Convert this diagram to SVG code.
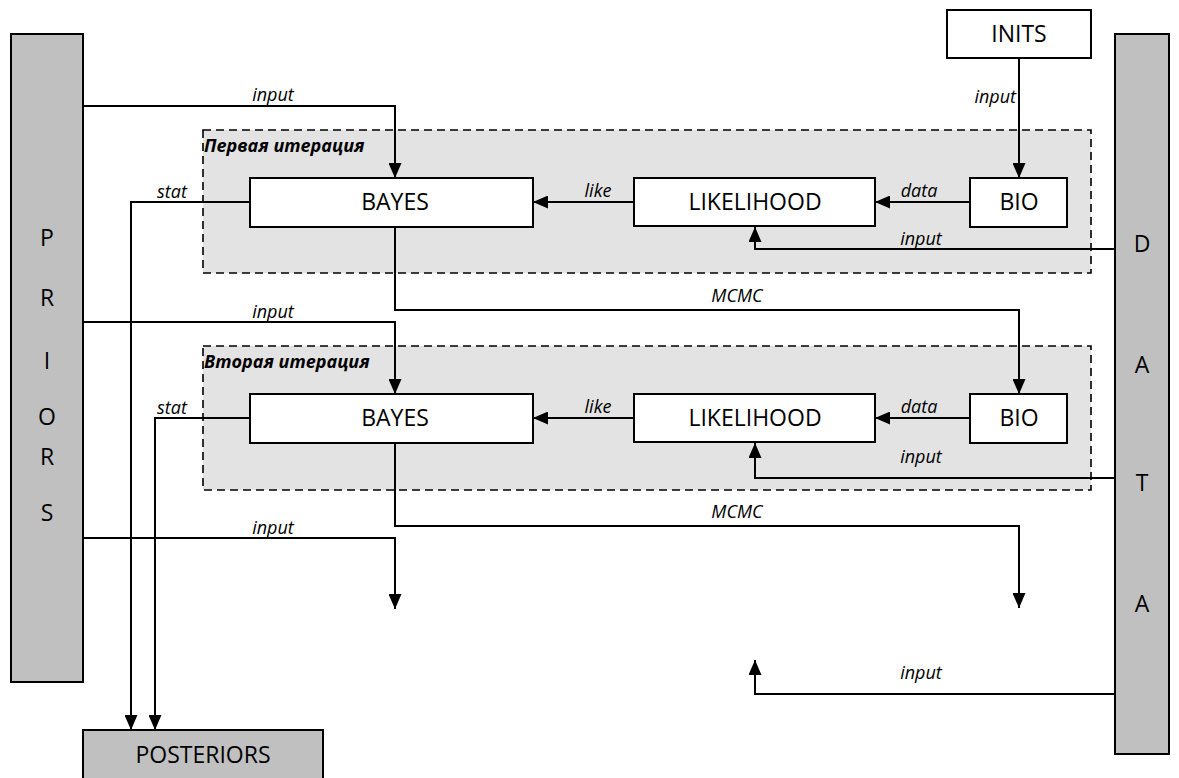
<svg xmlns="http://www.w3.org/2000/svg" width="1179" height="778" viewBox="0 0 1179 778">
<style>
.bg{fill:#ffffff}
.grp{fill:#e3e3e3;stroke:#000;stroke-width:1.6;stroke-dasharray:8 5}
.node{fill:#ffffff;stroke:#000;stroke-width:2}
.ext{fill:#c0c0c0;stroke:#000;stroke-width:2}
.lbl{font-family:"Open Sans","Liberation Sans",sans-serif;font-size:23px;fill:#000;text-anchor:middle}
.edge{fill:none;stroke:#000;stroke-width:2}
.el{font-family:"Open Sans","Liberation Sans",sans-serif;font-size:18px;font-style:italic;fill:#000;text-anchor:middle}
.gl{font-family:"Open Sans","Liberation Sans",sans-serif;font-size:18px;font-style:italic;font-weight:bold;fill:#000}
</style>
<defs>
<marker id="arr" markerUnits="userSpaceOnUse" markerWidth="15" markerHeight="13" refX="15" refY="6.5" orient="auto">
<path d="M0,0 L15,6.5 L0,13 z" fill="#000"/>
</marker>
</defs>
<rect class="bg" x="0" y="0" width="1179" height="778"/>

<g id="group1">
<rect class="grp" x="203" y="130" width="888" height="143"/>
<text class="gl" x="204" y="152">Первая итерация</text>
</g>
<g id="group2">
<rect class="grp" x="203" y="346" width="888" height="144"/>
<text class="gl" x="204" y="368">Вторая итерация</text>
</g>

<g id="connectors">
<path class="edge" d="M83,106 H395 V178" marker-end="url(#arr)"/>
<text class="el" x="273" y="101">input</text>
<path class="edge" d="M1019,58 V178" marker-end="url(#arr)"/>
<text class="el" x="1016" y="103" style="text-anchor:end">input</text>
<path class="edge" d="M250,202 H131 V730" marker-end="url(#arr)"/>
<text class="el" x="172" y="198">stat</text>
<path class="edge" d="M634,202 H533" marker-end="url(#arr)"/>
<text class="el" x="598" y="197">like</text>
<path class="edge" d="M970,202 H875" marker-end="url(#arr)"/>
<text class="el" x="919" y="197">data</text>
<path class="edge" d="M1115,249 H755 V227" marker-end="url(#arr)"/>
<text class="el" x="921" y="245">input</text>
<path class="edge" d="M395,227 V310 H1019 V394" marker-end="url(#arr)"/>
<text class="el" x="737" y="302">MCMC</text>

<path class="edge" d="M83,322 H395 V394" marker-end="url(#arr)"/>
<text class="el" x="273" y="318">input</text>
<path class="edge" d="M250,418 H155 V730" marker-end="url(#arr)"/>
<text class="el" x="172" y="414">stat</text>
<path class="edge" d="M634,418 H533" marker-end="url(#arr)"/>
<text class="el" x="598" y="413">like</text>
<path class="edge" d="M970,418 H875" marker-end="url(#arr)"/>
<text class="el" x="919" y="413">data</text>
<path class="edge" d="M1115,478 H755 V443" marker-end="url(#arr)"/>
<text class="el" x="921" y="463">input</text>
<path class="edge" d="M395,443 V526 H1019 V608" marker-end="url(#arr)"/>
<text class="el" x="737" y="518">MCMC</text>

<path class="edge" d="M83,538 H395 V609" marker-end="url(#arr)"/>
<text class="el" x="273" y="534">input</text>
<path class="edge" d="M1115,694 H755 V660" marker-end="url(#arr)"/>
<text class="el" x="921" y="679">input</text>
</g>

<g id="priors">
<rect class="ext" x="11" y="34" width="72" height="648"/>
<text class="lbl" x="47" y="246">P</text>
<text class="lbl" x="47" y="306">R</text>
<text class="lbl" x="47" y="369">I</text>
<text class="lbl" x="47" y="425">O</text>
<text class="lbl" x="47" y="465">R</text>
<text class="lbl" x="47" y="521">S</text>
</g>
<g id="data">
<rect class="ext" x="1115" y="34" width="54" height="720"/>
<text class="lbl" x="1142" y="252">D</text>
<text class="lbl" x="1142" y="373">A</text>
<text class="lbl" x="1142" y="491">T</text>
<text class="lbl" x="1142" y="612">A</text>
</g>
<g id="inits">
<rect class="node" x="947" y="10" width="144" height="48"/>
<text class="lbl" x="1019" y="42">INITS</text>
</g>
<g id="posteriors">
<rect class="ext" x="83" y="730" width="240" height="50"/>
<text class="lbl" x="203" y="763">POSTERIORS</text>
</g>
<g id="bayes1">
<rect class="node" x="250" y="178" width="283" height="49"/>
<text class="lbl" x="395" y="210">BAYES</text>
</g>
<g id="likelihood1">
<rect class="node" x="634" y="178" width="241" height="48"/>
<text class="lbl" x="755" y="210">LIKELIHOOD</text>
</g>
<g id="bio1">
<rect class="node" x="970" y="178" width="97" height="49"/>
<text class="lbl" x="1019" y="210">BIO</text>
</g>
<g id="bayes2">
<rect class="node" x="250" y="394" width="283" height="49"/>
<text class="lbl" x="395" y="426">BAYES</text>
</g>
<g id="likelihood2">
<rect class="node" x="634" y="394" width="241" height="48"/>
<text class="lbl" x="755" y="426">LIKELIHOOD</text>
</g>
<g id="bio2">
<rect class="node" x="970" y="394" width="97" height="49"/>
<text class="lbl" x="1019" y="426">BIO</text>
</g>
</svg>
